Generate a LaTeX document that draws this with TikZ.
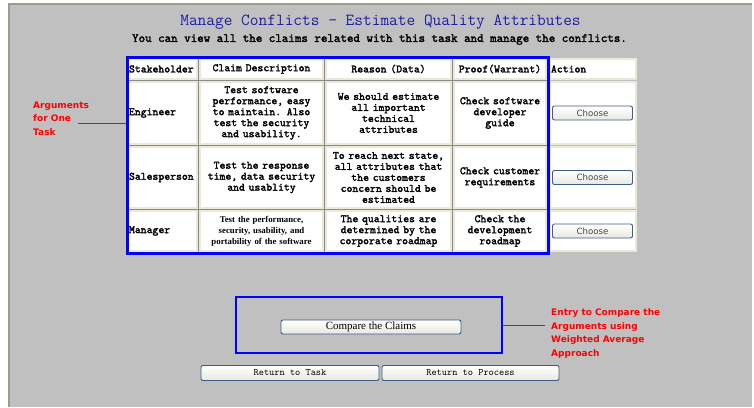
\documentclass[tikz,border=0pt]{standalone}
\usepackage{fontspec}
\setmainfont{Liberation Serif}
\newfontfamily\notefont{DejaVu Sans}
\newfontfamily\cellfont{lmmono10-regular}[Extension=.otf, FakeBold=2]
\usepackage{tikz}

\definecolor{pagegray}{RGB}{192,192,192}
\definecolor{edgegray}{RGB}{160,156,140}
\definecolor{gridgray}{RGB}{138,138,138}
\definecolor{cellrim}{RGB}{236,233,216}
\definecolor{titleblue}{RGB}{30,30,160}
\definecolor{frameblue}{RGB}{0,0,255}
\definecolor{btnrim}{RGB}{60,92,132}
\definecolor{btnface}{RGB}{232,232,224}

\begin{document}
\begin{tikzpicture}[x=1pt,y=-1pt,font=\cellfont]
        % Setup the styles for cells, buttons and notes
        \tikzset{cell/.style={draw=cellrim, line width=1.2pt, fill=white,
                              inner sep=0pt, align=center,
                              font=\cellfont\fontsize{11.2}{11}\selectfont},
                 stakecol/.style={text width=67, inner xsep=1pt, align=left},
                 claimcol/.style={text width=123},
                 reasoncol/.style={text width=125},
                 proofcol/.style={text width=92},
                 actcol/.style={text width=84, inner xsep=1pt, align=left},
                 headrow/.style={minimum height=20},
                 engrow/.style={minimum height=62},
                 salesrow/.style={minimum height=61},
                 mgrrow/.style={minimum height=40},
                 btn/.style={draw=btnrim, line width=0.9pt, rounded corners=2pt,
                             top color=white, bottom color=btnface,
                             inner sep=0pt, minimum height=14},
                 choosebtn/.style={btn, minimum width=80, text=black!72,
                                   font=\notefont\fontsize{8.6}{10}\selectfont},
                 notetext/.style={text=red, align=left, inner sep=0pt,
                                  anchor=north west,
                                  font=\notefont\bfseries\fontsize{9}{13.5}\selectfont},
                 notewire/.style={red, line width=0.8pt}}

        % Page
        \useasboundingbox (0,0) rectangle (754,407);
        \fill[white] (0,0) rectangle (754,407);
        \fill[pagegray] (8,3) rectangle (752,407);
        \draw[edgegray, line width=1.5pt] (8.75,407) -- (8.75,3.75) -- (752,3.75);

        % Heading
        \node[text=titleblue, font=\ttfamily\fontsize{16.9}{18}\selectfont]
              at (380.5,22) (title) {Manage Conflicts - Estimate Quality Attributes};
        \node[font=\cellfont\fontsize{12.4}{13}\selectfont]
              at (379.5,39.5) (subtitle) {You can view all the claims related with this task and manage the conflicts.};

        % Draw the table
        \fill[gridgray] (127,57) rectangle (548,253);
        \node[cell, stakecol, headrow] at (162.5,69) (headstake) {Stakeholder};
        \node[cell, claimcol, headrow] at (261.5,69) (headclaim) {Claim Description};
        \node[cell, reasoncol, headrow] at (388.5,69) (headreason) {Reason (Data)};
        \node[cell, proofcol, headrow] at (500,69) (headproof) {Proof(Warrant)};
        \node[cell, actcol, headrow] at (593,69) (headaction) {Action};

        \node[cell, stakecol, engrow] at (162.5,113) (engstake) {Engineer};
        \node[cell, claimcol, engrow] at (261.5,113) (engclaim)
              {Test software\\performance, easy\\to maintain. Also\\test the security\\and usability.};
        \node[cell, reasoncol, engrow] at (388.5,113) (engreason)
              {We should estimate\\all important\\technical\\attributes};
        \node[cell, proofcol, engrow] at (500,113) (engproof)
              {Check software\\developer\\guide};
        \node[cell, actcol, engrow] at (593,113) (engaction) {};

        \node[cell, stakecol, salesrow] at (162.5,177.5) (salesstake) {Salesperson};
        \node[cell, claimcol, salesrow] at (261.5,177.5) (salesclaim)
              {Test the response\\time, data security\\and usablity};
        \node[cell, reasoncol, salesrow] at (388.5,177.5) (salesreason)
              {To reach next state,\\all attributes that\\the customers\\concern should be\\estimated};
        \node[cell, proofcol, salesrow] at (500,177.5) (salesproof)
              {Check customer\\requirements};
        \node[cell, actcol, salesrow] at (593,177.5) (salesaction) {};

        \node[cell, stakecol, mgrrow] at (162.5,231) (mgrstake) {Manager};
        \node[cell, claimcol, mgrrow, font=\rmfamily\bfseries\fontsize{8.8}{11}\selectfont]
              at (261.5,231) (mgrclaim)
              {Test the performance,\\security, usability, and\\portability of the software};
        \node[cell, reasoncol, mgrrow] at (388.5,231) (mgrreason)
              {The qualities are\\determined by the\\corporate roadmap};
        \node[cell, proofcol, mgrrow] at (500,231) (mgrproof)
              {Check the\\development\\roadmap};
        \node[cell, actcol, mgrrow] at (593,231) (mgraction) {};

        \node[draw=frameblue, line width=3pt, inner sep=0pt,
              minimum width=421, minimum height=196] at (337.5,155) (claimframe) {};

        % Buttons
        \node[choosebtn] at (592.5,113) (engchoose) {Choose};
        \node[choosebtn] at (592.5,177.5) (saleschoose) {Choose};
        \node[choosebtn] at (592.5,231) (mgrchoose) {Choose};

        \node[draw=frameblue, line width=2.5pt, inner sep=0pt,
              minimum width=266, minimum height=56] at (369,325) (cmpframe) {};
        \node[btn, minimum width=180, font=\rmfamily\fontsize{11}{12}\selectfont]
              at (371,327) (comparebtn) {Compare the Claims};
        \node[btn, minimum width=178, minimum height=15, font=\ttfamily\fontsize{9.9}{10}\selectfont]
              at (290,373) (backtask) {Return to Task};
        \node[btn, minimum width=177, minimum height=15, font=\ttfamily\fontsize{9.9}{10}\selectfont]
              at (470.5,373) (backprocess) {Return to Process};

        % Notes
        \node[notetext] at (33,101.5) (argnote) {Arguments\\for One\\Task};
        \node[notetext] at (551,308.5) (entrynote)
              {Entry to Compare the\\Arguments using\\Weighted Average\\Approach};
        \coordinate (argtip) at (78,123);
        \coordinate (entrytip) at (545,325);

        % Connect the notes
        \draw[notewire]
              (argtip)        edge            (argtip -| claimframe.west)
              (cmpframe.east) edge            (entrytip);
\end{tikzpicture}
\end{document}
